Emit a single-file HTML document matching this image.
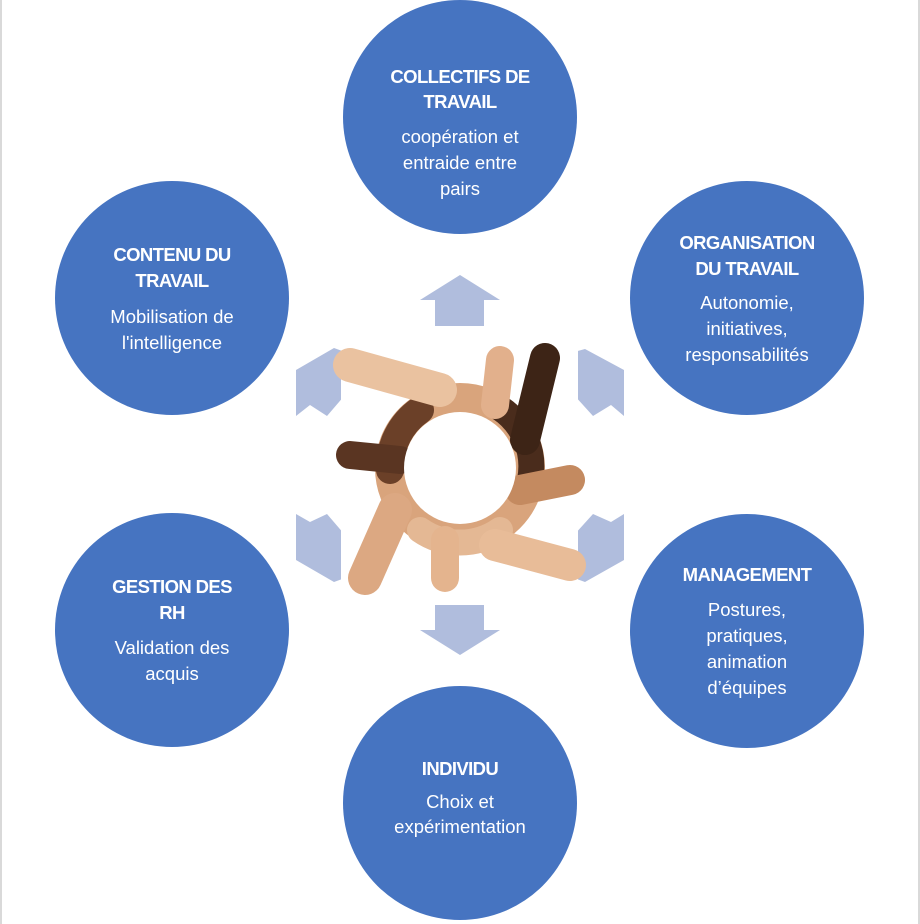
<!DOCTYPE html>
<html><head><meta charset="utf-8"><style>
html,body{margin:0;padding:0;background:#fff;}
svg{display:block;}
text{font-family:"Liberation Sans",sans-serif;fill:#fff;text-anchor:middle;font-size:18.5px;}
.t{font-weight:bold;letter-spacing:-0.6px;font-size:18.5px;}
</style></head><body>
<svg width="920" height="924" viewBox="0 0 920 924" xmlns="http://www.w3.org/2000/svg">
<rect x="0" y="0" width="920" height="924" fill="#fff"/>
<rect x="0" y="0" width="2" height="924" fill="#d9d9d9"/>
<rect x="918" y="0" width="2" height="924" fill="#d9d9d9"/>
<g fill="#4674C1">
<circle cx="460" cy="117" r="117"/>
<circle cx="172" cy="298" r="117"/>
<circle cx="747" cy="298" r="117"/>
<circle cx="172" cy="630" r="117"/>
<circle cx="747" cy="631" r="117"/>
<circle cx="460" cy="803" r="117"/>
</g>
<g fill="#B0BDDD">
<polygon points="460,275 500,300 484,300 484,326 435,326 435,300 420,300"/>
<polygon points="435,605 484,605 484,630 500,630 460,655 420,630 435,630"/>
<polygon points="296,370 334,348 345,352 345,395 327,416 310,405 296,416"/>
<polygon points="296,514 310,522 327,514 345,535 345,578 334,582 296,560"/>
<polygon points="574,352 585,349 624,370 624,416 611,405 593,416 574,395"/>
<polygon points="574,535 593,514 611,522 624,514 624,560 585,582 574,578"/>
</g>
<g stroke-linecap="round">
<rect x="341" y="349" width="237" height="237" fill="#fff"/>
<circle cx="460" cy="468" r="70" fill="none" stroke="#d9a47c" stroke-width="30"/>
<path d="M390,470 A70,70 0 0 1 420,410" fill="none" stroke="#6b4028" stroke-width="28"/>
<path d="M500,408 A70,70 0 0 1 530,480" fill="none" stroke="#4a2c1c" stroke-width="26"/>
<path d="M420,530 A70,70 0 0 0 500,530" fill="none" stroke="#e4b894" stroke-width="26"/>
<path d="M350,365 L440,390" stroke="#eac2a0" stroke-width="34"/>
<path d="M545,358 L525,440" stroke="#3d2416" stroke-width="30"/>
<path d="M350,455 L400,460" stroke="#5a3522" stroke-width="28"/>
<path d="M570,480 L520,490" stroke="#c48a60" stroke-width="30"/>
<path d="M365,578 L395,510" stroke="#dca882" stroke-width="34"/>
<path d="M570,565 L495,545" stroke="#e8bc98" stroke-width="32"/>
<path d="M500,360 L495,405" stroke="#e2b08c" stroke-width="28"/>
<path d="M445,578 L445,540" stroke="#e4b48e" stroke-width="28"/>
<circle cx="460" cy="468" r="56" fill="#fff"/>
</g>
<text class="t" x="460" y="83">COLLECTIFS DE</text>
<text class="t" x="460" y="108">TRAVAIL</text>
<text x="460" y="143">coopération et</text>
<text x="460" y="169">entraide entre</text>
<text x="460" y="195">pairs</text>

<text class="t" x="172" y="261">CONTENU DU</text>
<text class="t" x="172" y="287">TRAVAIL</text>
<text x="172" y="323">Mobilisation de</text>
<text x="172" y="349">l'intelligence</text>

<text class="t" x="747" y="249">ORGANISATION</text>
<text class="t" x="747" y="275">DU TRAVAIL</text>
<text x="747" y="309">Autonomie,</text>
<text x="747" y="335">initiatives,</text>
<text x="747" y="361">responsabilités</text>

<text class="t" x="747" y="581">MANAGEMENT</text>
<text x="747" y="616">Postures,</text>
<text x="747" y="642">pratiques,</text>
<text x="747" y="668">animation</text>
<text x="747" y="694">d’équipes</text>

<text class="t" x="172" y="593">GESTION DES</text>
<text class="t" x="172" y="619">RH</text>
<text x="172" y="654">Validation des</text>
<text x="172" y="680">acquis</text>

<text class="t" x="460" y="775">INDIVIDU</text>
<text x="460" y="808">Choix et</text>
<text x="460" y="833">expérimentation</text>
</svg>
</body></html>
